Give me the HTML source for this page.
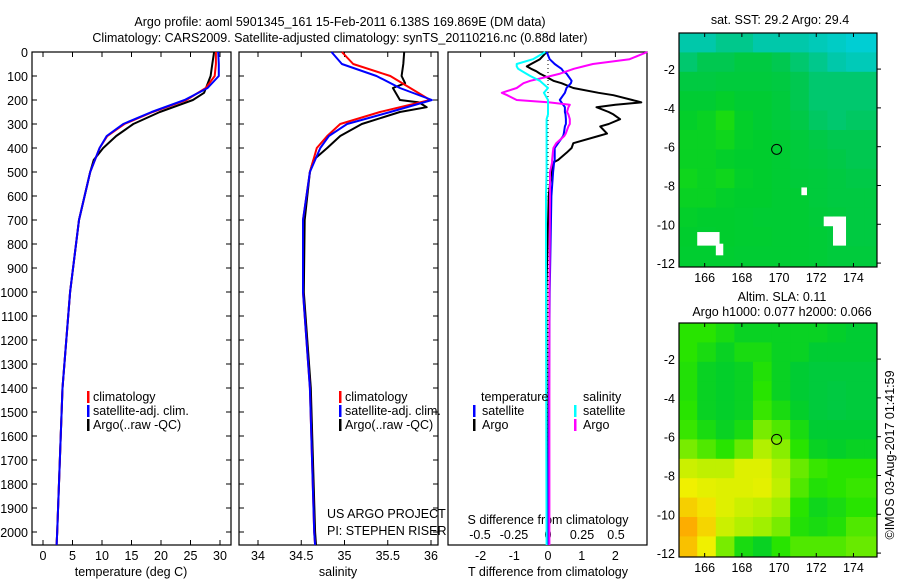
<!DOCTYPE html>
<html><head><meta charset="utf-8">
<style>
html,body{margin:0;padding:0;background:#fff;}
svg{display:block;font-family:"Liberation Sans",sans-serif;}
text{font-size:12.5px;fill:#000;}
</style></head>
<body>
<svg id="fig" width="900" height="580" viewBox="0 0 900 580" xmlns="http://www.w3.org/2000/svg">
<text x="340" y="26" text-anchor="middle">Argo profile: aoml 5901345_161 15-Feb-2011 6.138S 169.869E (DM data)</text>
<text x="340" y="42" text-anchor="middle">Climatology: CARS2009. Satellite-adjusted climatology: synTS_20110216.nc (0.88d later)</text>
<text x="780" y="24" text-anchor="middle">sat. SST: 29.2 Argo: 29.4</text>
<text x="782" y="301" text-anchor="middle">Altim. SLA: 0.11</text>
<text x="782" y="316" text-anchor="middle">Argo h1000: 0.077 h2000: 0.066</text>
<text transform="translate(894,455) rotate(-90)" text-anchor="middle">©IMOS 03-Aug-2017 01:41:59</text>
<g id="g"></g>
</svg>
<script>
// ---------- data ----------
const depthTicks=[0,100,200,300,400,500,600,700,800,900,1000,1100,1200,1300,1400,1500,1600,1700,1800,1900,2000];
const tempTicks=[0,5,10,15,20,25,30];
const salTicks=[34,34.5,35,35.5,36];
const salTickLabels=["34","34.5","35","35.5","36"];
const tdiffTicks=[-2,-1,0,1,2];
const sdiffTicks=[-0.5,-0.25,0,0.25,0.5];
const sdiffTickLabels=["-0.5","-0.25","0","0.25","0.5"];

const depthClim=[0,50,100,150,200,250,300,350,400,500,700,1000,1400,2000,2055];
const tempClim=[29.3,29.3,29.1,27.6,24.3,18.6,13.8,10.9,9.6,8.0,6.1,4.6,3.3,2.4,2.3];
const tempSat=[29.7,29.8,29.8,27.9,24.0,18.4,13.6,10.8,9.6,8.0,6.1,4.6,3.3,2.4,2.3];
const depthArgo=[0,50,100,170,200,250,300,350,400,450,500,700,1000,1400,2000,2055];
const tempArgo=[29.0,28.7,28.4,27.3,25.4,19.8,15.3,12.4,10.2,8.6,8.0,6.1,4.6,3.3,2.4,2.3];

const salClim=[34.97,35.1,35.53,35.76,35.99,35.41,34.95,34.8,34.68,34.6,34.52,34.52,34.6,34.65,34.66];
const salSat=[34.85,34.97,35.37,35.64,36.01,35.53,35.03,34.82,34.72,34.6,34.52,34.52,34.6,34.65,34.66];
const depthSalArgo=[0,50,100,130,150,200,210,230,250,300,350,400,450,500,700,1000,1400,2000,2055];
const salArgo=[35.69,35.68,35.66,35.7,35.56,35.64,35.86,35.95,35.64,35.2,34.95,34.8,34.64,34.6,34.54,34.53,34.61,34.66,34.67];

const depthDiff=[0,30,50,60,70,80,90,100,120,130,150,170,180,200,210,220,230,250,260,280,300,310,340,350,380,400,420,450,460,500,600,1000,2055];
const tdiffSat=[-0.04,0.05,0.2,0.3,0.4,0.45,0.55,0.6,0.7,0.68,0.55,0.5,0.45,0.35,0.4,0.45,0.5,0.5,0.52,0.53,0.53,0.5,0.47,0.45,0.3,0.2,0.2,0.2,0.18,0.15,0.1,0.05,0.0];
const tdiffArgo=[-0.04,-0.24,-0.5,-0.63,-0.5,-0.35,-0.24,-0.1,0.16,0.4,0.75,1.5,1.94,2.5,2.77,2.0,1.44,1.8,1.94,2.14,1.8,1.55,1.75,1.5,0.75,0.7,0.55,0.3,0.16,0.1,0.02,-0.05,-0.02];
const sdiffSat=[-0.02,-0.11,-0.23,-0.23,-0.22,-0.19,-0.16,-0.13,-0.06,-0.04,0.0,-0.03,-0.02,0.0,0.0,0.0,0.0,0.0,0.0,-0.01,-0.01,-0.01,-0.01,-0.01,-0.01,-0.01,-0.01,-0.01,-0.01,-0.01,-0.015,-0.015,-0.01];
const sdiffArgo=[0.73,0.6,0.33,0.26,0.19,0.14,0.09,0.02,-0.13,-0.18,-0.23,-0.34,-0.3,-0.23,0.01,0.16,0.15,0.14,0.15,0.16,0.16,0.15,0.13,0.12,0.06,0.04,0.035,0.03,0.03,0.015,0.015,0.01,0.01];

const mapLonTicks=[166,168,170,172,174];
const mapLatTicks=[-2,-4,-6,-8,-10,-12];
const gridLon0=164.6, gridLat0=-0.14, gridStep=1;
const sstGrid=[
[0.2,0.2,0.25,0.25,0.2,0.2,0.2,0.15,0.1,0.05,0.05],
[0.3,0.35,0.35,0.4,0.4,0.35,0.3,0.25,0.2,0.15,0.15],
[0.4,0.4,0.42,0.42,0.42,0.4,0.35,0.3,0.3,0.3,0.3],
[0.45,0.45,0.48,0.45,0.45,0.42,0.35,0.3,0.3,0.3,0.3],
[0.48,0.5,0.55,0.48,0.45,0.42,0.38,0.32,0.3,0.32,0.32],
[0.5,0.5,0.52,0.48,0.47,0.45,0.42,0.38,0.35,0.35,0.35],
[0.5,0.5,0.48,0.47,0.47,0.45,0.42,0.4,0.38,0.35,0.35],
[0.52,0.5,0.52,0.48,0.47,0.45,0.43,0.42,0.4,0.38,0.38],
[0.5,0.5,0.48,0.47,0.47,0.45,0.45,0.42,0.4,0.4,0.4],
[0.48,0.47,0.47,0.46,0.45,0.45,0.45,0.43,0.42,0.4,0.4],
[0.47,0.46,0.47,0.46,0.46,0.45,0.45,0.44,0.42,0.4,0.4],
[0.46,0.46,0.46,0.45,0.45,0.45,0.45,0.44,0.42,0.42,0.42],
[0.46,0.46,0.46,0.45,0.45,0.45,0.45,0.44,0.42,0.42,0.42]];
const slaGrid=[
[0.6,0.6,0.55,0.5,0.5,0.5,0.5,0.5,0.48,0.45,0.45],
[0.6,0.55,0.5,0.55,0.55,0.5,0.5,0.45,0.45,0.45,0.45],
[0.58,0.5,0.48,0.5,0.58,0.5,0.45,0.42,0.42,0.42,0.42],
[0.58,0.5,0.48,0.5,0.6,0.5,0.45,0.42,0.4,0.42,0.42],
[0.6,0.5,0.48,0.5,0.62,0.55,0.48,0.42,0.4,0.42,0.42],
[0.62,0.55,0.5,0.55,0.7,0.65,0.55,0.45,0.45,0.45,0.45],
[0.7,0.65,0.6,0.68,0.78,0.72,0.6,0.5,0.48,0.5,0.5],
[0.82,0.8,0.8,0.85,0.85,0.78,0.68,0.62,0.6,0.6,0.6],
[0.88,0.86,0.85,0.85,0.86,0.8,0.65,0.58,0.6,0.62,0.62],
[0.93,0.9,0.85,0.82,0.8,0.75,0.6,0.52,0.55,0.6,0.6],
[0.98,0.92,0.82,0.78,0.75,0.7,0.58,0.55,0.58,0.65,0.65],
[0.95,0.88,0.7,0.55,0.5,0.6,0.65,0.65,0.65,0.68,0.68],
[0.95,0.88,0.7,0.55,0.5,0.6,0.65,0.65,0.65,0.68,0.68]];
// missing-data patches on SST map: [lon0, lat0, lon1, lat1]
const sstMissing=[[172.4,-9.6,173.3,-10.1],[172.9,-9.6,173.6,-11.1],[171.2,-8.1,171.5,-8.5],[165.6,-10.4,166.8,-11.1],[166.6,-11.0,167.0,-11.6]];
const argoLon=169.869, argoLat=-6.138;

// ---------- helpers ----------
const NS="http://www.w3.org/2000/svg";
const G=document.getElementById('g');
function mk(tag,attrs,parent){const e=document.createElementNS(NS,tag);for(const k in attrs)e.setAttribute(k,attrs[k]);(parent||G).appendChild(e);return e;}
const Y0=52, Ypx=0.24;
function yD(d){return Y0+d*Ypx;}
const PTOP=52, PBOT=545;
function xT(t){return 43+t*5.9;}
function xS(s){return 258+(s-34)*86.5;}
function xTD(t){return 548+t*33.7;}
function xSD(s){return 548+s*136;}
function clipY(y){return Math.min(Math.max(y,PTOP),PBOT);}
function pathFrom(xs,ds,fx){let p='';for(let i=0;i<xs.length;i++){p+=(i?'L':'M')+fx(xs[i]).toFixed(1)+' '+clipY(yD(ds[i])).toFixed(1);}return p;}

function panelFrame(x0,x1,name){
  const r=mk('rect',{x:x0,y:PTOP,width:x1-x0,height:PBOT-PTOP,fill:'none',stroke:'#000','stroke-width':1.2});
  
  
  for(const d of depthTicks){const y=yD(d);
    const t1=mk('line',{x1:x0,x2:x0+5,y1:y,y2:y,stroke:'#000'});
    
    
    const t2=mk('line',{x1:x1-5,x2:x1,y1:y,y2:y,stroke:'#000'});
    
    }
}
function xTicks(vals,labels,fx,ly,name,top){
  vals.forEach((v,i)=>{const x=fx(v);
    const t=mk('line',{x1:x,x2:x,y1:PBOT-5,y2:PBOT,stroke:'#000'});
    
    
    if(top){const t2=mk('line',{x1:x,x2:x,y1:PTOP,y2:PTOP+5,stroke:'#000'});
      
      }
    const l=mk('text',{x:x,y:ly,'text-anchor':'middle'});l.textContent=labels[i];
    
    });
}
function line(xs,ds,fx,color,name,w){
  const p=mk('path',{d:pathFrom(xs,ds,fx),fill:'none',stroke:color,'stroke-width':w||2,'stroke-linejoin':'round'});
  
  
}
function txt(x,y,s,name,anchor){const t=mk('text',{x:x,y:y,'text-anchor':anchor||'start'});t.textContent=s;
  
  return t;}
function legBar(x,y,c){const r=mk('rect',{x:x,y:y-10,width:2.5,height:12,fill:c});
  
  }

// ---------- panel 1: temperature ----------
panelFrame(32,231,'temperature-panel');
depthTicks.forEach(d=>{txt(28,yD(d)+5,String(d),'depth-tick-label','end');});
xTicks(tempTicks,tempTicks.map(String),xT,560,'temp-x',true);
txt(131,576,'temperature (deg C)','temp-x-axis-title','middle');
line(tempArgo,depthArgo,xT,'#000','temp-argo-line');
line(tempClim,depthClim,xT,'#f00','temp-climatology-line');
line(tempSat,depthClim,xT,'#00f','temp-satellite-line');
legBar(87,401,'#f00');txt(93,401,'climatology','legend-climatology');
legBar(87,415,'#00f');txt(93,415,'satellite-adj. clim.','legend-satellite');
legBar(87,429,'#000');txt(93,429,'Argo(..raw -QC)','legend-argo');

// ---------- panel 2: salinity ----------
panelFrame(239,438,'salinity-panel');
xTicks(salTicks,salTickLabels,xS,560,'sal-x',true);
txt(338,576,'salinity','salinity-x-axis-title','middle');
line(salArgo,depthSalArgo,xS,'#000','sal-argo-line');
line(salClim,depthClim,xS,'#f00','sal-climatology-line');
line(salSat,depthClim,xS,'#00f','sal-satellite-line');
legBar(339,401,'#f00');txt(345,401,'climatology','legend-climatology');
legBar(339,415,'#00f');txt(345,415,'satellite-adj. clim.','legend-satellite');
legBar(339,429,'#000');txt(345,429,'Argo(..raw -QC)','legend-argo');
txt(327,518,'US ARGO PROJECT','project-label');
txt(327,535,'PI: STEPHEN RISER','pi-label');

// ---------- panel 3: differences ----------
const r3=mk('rect',{x:448,y:PTOP,width:199,height:PBOT-PTOP,fill:'none',stroke:'#000','stroke-width':1.2});


tdiffTicks.forEach(v=>{const x=xTD(v);const t=mk('line',{x1:x,x2:x,y1:PTOP,y2:PTOP+5,stroke:'#000'});
  
  });
tdiffTicks.forEach(v=>{txt(xTD(v),560,String(v),'tdiff-tick-label','middle');});
sdiffTicks.forEach((v,i)=>{txt(xSD(v),539,sdiffTickLabels[i],'sdiff-tick-label','middle');});
txt(548,524,'S difference from climatology','sdiff-axis-title','middle');
txt(548,576,'T difference from climatology','tdiff-axis-title','middle');
const zl=mk('line',{x1:xTD(0),x2:xTD(0),y1:PTOP,y2:PBOT,stroke:'#000','stroke-dasharray':'1 3'});


line(tdiffArgo,depthDiff,xTD,'#000','tdiff-argo-line');
line(tdiffSat,depthDiff,xTD,'#00f','tdiff-satellite-line');
line(sdiffArgo,depthDiff,xSD,'#f0f','sdiff-argo-line');
line(sdiffSat,depthDiff,xSD,'#0ff','sdiff-satellite-line');
txt(481,401,'temperature','legend-temperature-header');
txt(583,401,'salinity','legend-salinity-header');
legBar(473,415,'#00f');txt(482,415,'satellite','legend-t-satellite');
legBar(473,429,'#000');txt(482,429,'Argo','legend-t-argo');
legBar(574,415,'#0ff');txt(583,415,'satellite','legend-s-satellite');
legBar(574,429,'#f0f');txt(583,429,'Argo','legend-s-argo');

// ---------- maps ----------
const stops=[[0,[0,208,224]],[0.2,[0,200,170]],[0.35,[0,200,80]],[0.47,[0,205,45]],[0.6,[40,228,0]],[0.75,[160,240,0]],[0.88,[240,240,0]],[1,[255,160,0]]];
function cmap(v){for(let i=1;i<stops.length;i++){if(v<=stops[i][0]){const a=stops[i-1],b=stops[i];const f=(v-a[0])/(b[0]-a[0]);
  const c=a[1].map((q,k)=>Math.round(q+(b[1][k]-q)*f));return 'rgb('+c.join(',')+')';}}return 'rgb(255,160,0)';}
function drawMap(top,grid,name,missing){
  const L=679,R=877,B=top+234;
  const mx=lon=>L+(lon-164.62)*18.6;
  const my=lat=>top+(-0.14-lat)*19.4;
  const g=mk('g',{});
  
  
  const cp=mk('clipPath',{id:name+'-clip'},g);mk('rect',{x:L,y:top,width:R-L,height:B-top},cp);
  const cg=mk('g',{'clip-path':'url(#'+name+'-clip)'},g);
  grid.forEach((row,r)=>row.forEach((v,c)=>{
    const x0=mx(gridLon0+c*gridStep),y0=my(gridLat0-r*gridStep);
    const cell=mk('rect',{x:x0.toFixed(1),y:y0.toFixed(1),width:(18.6*gridStep+0.5).toFixed(1),height:(19.4*gridStep+0.5).toFixed(1),fill:cmap(v)},cg);
    
    }));
  (missing||[]).forEach(m=>{const rr=mk('rect',{x:mx(m[0]),y:my(m[1]),width:mx(m[2])-mx(m[0]),height:my(m[3])-my(m[1]),fill:'#fff'},cg);
    
    });
  const fr=mk('rect',{x:L,y:top,width:R-L,height:B-top,fill:'none',stroke:'#000','stroke-width':1.2},g);
  
  
  mapLonTicks.forEach(v=>{const x=mx(v);
    const t=mk('line',{x1:x,x2:x,y1:B-4,y2:B,stroke:'#000'},g);
    
    
    const t2=mk('line',{x1:x,x2:x,y1:top,y2:top+4,stroke:'#000'},g);
    
    
    txt(x,B+15,String(v),'lon-tick-label','middle');});
  mapLatTicks.forEach(v=>{const y=my(v);
    const t=mk('line',{x1:R,x2:R+4,y1:y,y2:y,stroke:'#000'},g);
    
    
    txt(L-4,y+5,String(v),'lat-tick-label','end');});
  const c=mk('circle',{cx:mx(argoLon),cy:my(argoLat),r:5,fill:'none',stroke:'#000','stroke-width':1},g);
  
  
}
drawMap(33,sstGrid,'sst-map',sstMissing);
drawMap(323,slaGrid,'sla-map',[]);
</script>
</body></html>
